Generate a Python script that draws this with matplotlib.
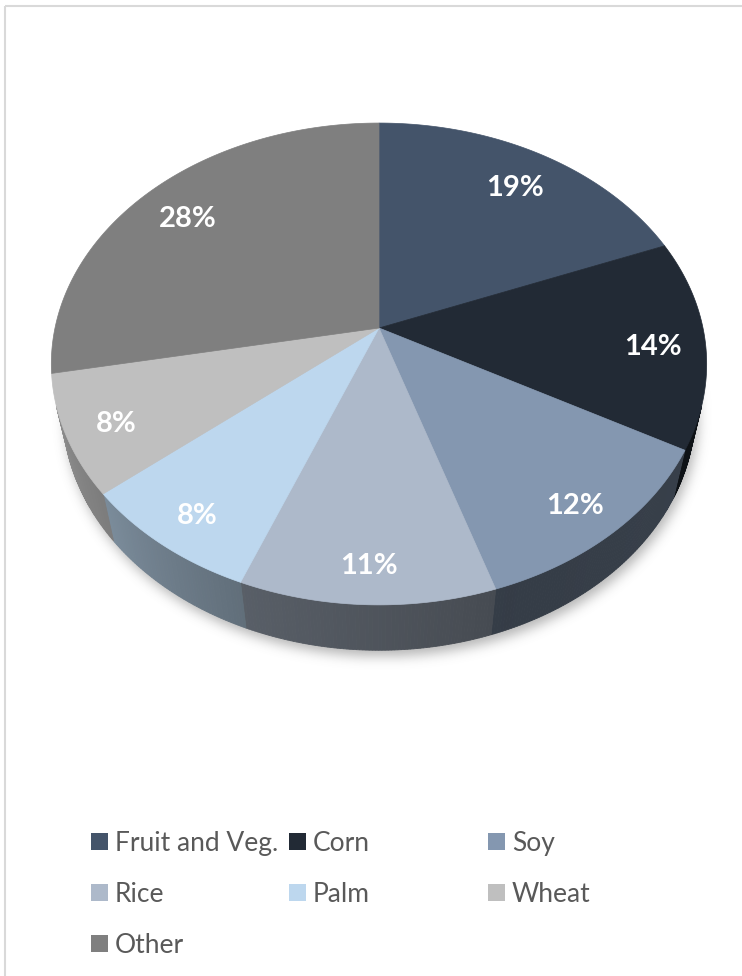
import numpy as np
import matplotlib
matplotlib.use("Agg")
import matplotlib.pyplot as plt
from matplotlib.patches import Polygon, Rectangle
from matplotlib.path import Path

# ---- data ----
categories = ["Fruit and Veg.", "Corn", "Soy", "Rice", "Palm", "Wheat", "Other"]
shares = [19, 14, 12, 11, 8, 8, 28]
colors = ["#44546A", "#222A35", "#8497B0", "#ADB9CA", "#BDD7EE", "#BFBFBF", "#7F7F7F"]

# ---- canvas (axes in pixel units) ----
W, H = 742, 976
fig = plt.figure(figsize=(W / 100, H / 100), dpi=100)
ax = fig.add_axes([0, 0, 1, 1])
ax.set_xlim(0, W)
ax.set_ylim(H, 0)
ax.axis("off")

# chart-area outline
ax.add_patch(Rectangle((5, 6), W + 20, H + 20, fill=False, ec="#D9D9D9", lw=1.5, zorder=0))

# ---- perspective projection of a flat cylinder ----
CX, CY = 379.0, 328.0
ELEV = np.arcsin(0.727)
c, s = np.cos(ELEV), np.sin(ELEV)
L = 4.6
F = 324.0 * L
THICK = 0.225


def proj(theta_deg, r=1.0, z=0.0):
    t = np.radians(theta_deg)
    X = r * np.sin(t)
    Y = r * np.cos(t)
    depth = L + Y * c - z * s
    px = CX + F * X / depth
    py = CY - F * (Y * s + z * c) / depth
    return px, py


def mix(hexcol, k):
    rgb = np.array(matplotlib.colors.to_rgb(hexcol))
    return tuple(np.clip(rgb * k, 0, 1))


# side lighting factor along the rim (theta clockwise from 12 o'clock)
shade_th = [100, 160, 201, 235, 255]
shade_k = [0.43, 0.40, 0.51, 0.67, 0.74]

bounds = np.concatenate([[0], np.cumsum(shares)]) * 3.6
vis_lo = np.degrees(np.arccos(-1.0 / (L * c)))
vis_hi = 360 - vis_lo

# ---- soft shadow under the cylinder ----
th_all = np.linspace(0, 360, 361)
bx, by = proj(th_all, 1.0, -THICK)
gx, gy = np.meshgrid(np.arange(W) + 0.5, np.arange(H) + 0.5)
pts = np.column_stack([gx.ravel(), gy.ravel()])
mask = np.zeros(W * H)
outline = np.column_stack([bx + 3, by + 6])
mask[Path(outline).contains_points(pts)] = 1.0
mask = mask.reshape(H, W)
sig = 6.0
kx = np.arange(-20, 21)
kern = np.exp(-kx ** 2 / (2 * sig ** 2))
kern /= kern.sum()
mask = np.apply_along_axis(lambda m: np.convolve(m, kern, mode="same"), 0, mask)
mask = np.apply_along_axis(lambda m: np.convolve(m, kern, mode="same"), 1, mask)
shadow = np.zeros((H, W, 4))
shadow[..., :3] = 0.35
shadow[..., 3] = mask * 0.45
ax.imshow(shadow, extent=(0, W, H, 0), zorder=1, interpolation="bilinear")

# ---- side walls (visible front arc only) ----
for i, col in enumerate(colors):
    a0, a1 = max(bounds[i], vis_lo), min(bounds[i + 1], vis_hi)
    if a1 <= a0:
        continue
    n = max(2, int((a1 - a0) * 2))
    ths = np.linspace(a0, a1, n + 1)
    for t0, t1 in zip(ths[:-1], ths[1:]):
        x0, y0 = proj(t0)
        x1, y1 = proj(t1)
        x2, y2 = proj(t1, 1.0, -THICK)
        x3, y3 = proj(t0, 1.0, -THICK)
        k = np.interp(0.5 * (t0 + t1), shade_th, shade_k)
        fc = mix(col, k)
        ax.add_patch(Polygon([(x0, y0), (x1, y1), (x2, y2), (x3, y3)],
                             closed=True, fc=fc, ec=fc, lw=0.6, zorder=2))

# ---- top faces ----
for i, col in enumerate(colors):
    ths = np.linspace(bounds[i], bounds[i + 1], max(3, int(shares[i] * 8)))
    px, py = proj(ths)
    poly = [(CX, CY)] + list(zip(px, py))
    ax.add_patch(Polygon(poly, closed=True, fc=col, ec=col, lw=0.5, zorder=3))

# ---- value labels ----
for i, v in enumerate(shares):
    mid = 0.5 * (bounds[i] + bounds[i + 1])
    ex, ey = proj(mid)
    lx = CX + 0.84 * (ex - CX)
    ly = CY + 0.84 * (ey - CY) + 6
    ax.text(lx, ly, f"{v}%", color="white", fontsize=21, fontweight="bold",
            family=["Lato", "DejaVu Sans"], ha="center", va="center", zorder=5)

# ---- legend (3 columns) ----
col_x = [91, 289, 488]
row_y = [841, 892, 943]
for i, (name, col) in enumerate(zip(categories, colors)):
    r, q = divmod(i, 3)
    mx, my = col_x[q], row_y[r]
    ax.add_patch(Rectangle((mx, my - 8.5), 17, 17, fc=col, ec="none", zorder=5))
    ax.text(mx + 24, my, name, color="#595959", fontsize=19,
            family=["Lato", "DejaVu Sans"], ha="left", va="center_baseline", zorder=5)

fig.savefig("out.png", dpi=100)
